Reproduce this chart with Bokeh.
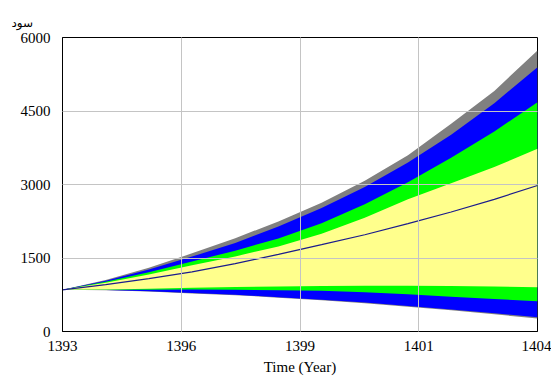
from bokeh.plotting import figure
from bokeh.models import Range1d, FixedTicker
from bokeh.embed import file_html
from bokeh.resources import INLINE

# ---- data ----
years = [1393, 1394, 1395, 1396, 1397, 1398, 1399, 1400, 1401, 1402, 1403, 1404]

gray_hi   = [850, 1050, 1300, 1595, 1905, 2246, 2628, 3075, 3598, 4240, 4910, 5735]
blue_hi   = [850, 1038, 1267, 1529, 1807, 2143, 2520, 2949, 3450, 4016, 4659, 5395]
green_hi  = [850, 1014, 1209, 1430, 1649, 1900, 2210, 2595, 3047, 3545, 4083, 4680]
yellow_hi = [850, 995, 1164, 1351, 1532, 1737, 1995, 2320, 2698, 3023, 3356, 3729]
base_run  = [850, 958, 1080, 1218, 1385, 1575, 1773, 1975, 2200, 2438, 2697, 2980]
yellow_lo = [850, 855, 870, 895, 910, 920, 930, 935, 935, 930, 920, 905]
green_lo  = [850, 850, 850, 855, 850, 840, 830, 800, 760, 710, 665, 618]
blue_lo   = [850, 845, 820, 785, 750, 700, 650, 590, 520, 450, 370, 290]
gray_lo   = [850, 842, 815, 778, 742, 690, 638, 576, 505, 432, 350, 265]

x_ticks = [1393, 1395.75, 1398.5, 1401.25, 1404]
x_tick_labels = ["1393", "1396", "1399", "1401", "1404"]
y_ticks = [0, 1500, 3000, 4500, 6000]
y_tick_labels = ["0", "1500", "3000", "4500", "6000"]

y_title = "سود"
x_title = "Time (Year)"

SERIF = "Liberation Serif"

p = figure(width=551, height=380,
           x_range=Range1d(1393, 1404), y_range=Range1d(0, 6000),
           output_backend="svg", toolbar_location=None,
           min_border_left=62, min_border_right=14,
           min_border_top=37, min_border_bottom=49,
           title=y_title)

p.background_fill_color = "white"
p.border_fill_color = "white"
p.outline_line_color = "black"
p.outline_line_width = 1

p.title.align = "left"
p.title.offset = -51
p.title.standoff = 15
p.title.text_font = "DejaVu Sans"
p.title.text_font_size = "12px"
p.title.text_font_style = "normal"
p.title.text_color = "black"

# bands
p.varea(x=years, y1=gray_lo, y2=gray_hi, fill_color="#808080")
p.varea(x=years, y1=blue_lo, y2=blue_hi, fill_color="#0000ff")
p.varea(x=years, y1=green_lo, y2=green_hi, fill_color="#00ff00")
p.varea(x=years, y1=yellow_lo, y2=yellow_hi, fill_color="#ffff8c")
p.line(x=years, y=base_run, line_color="#1c1c8c", line_width=1.2)

# axes
p.xaxis.ticker = FixedTicker(ticks=x_ticks)
p.xaxis.major_label_overrides = {t: l for t, l in zip(x_ticks, x_tick_labels)}
p.yaxis.ticker = FixedTicker(ticks=y_ticks)
p.yaxis.major_label_overrides = {t: l for t, l in zip(y_ticks, y_tick_labels)}

for ax in (p.xaxis, p.yaxis):
    ax.axis_line_color = "black"
    ax.major_tick_line_color = None
    ax.minor_tick_line_color = None
    ax.major_tick_out = 0
    ax.major_tick_in = 0
    ax.major_label_text_font = SERIF
    ax.major_label_text_font_size = "15px"
    ax.major_label_text_color = "black"
p.xaxis.major_label_standoff = 9
p.yaxis.major_label_standoff = 12

p.xaxis.axis_label = x_title
p.xaxis.axis_label_standoff = 5
p.xaxis.axis_label_text_font = SERIF
p.xaxis.axis_label_text_font_size = "15px"
p.xaxis.axis_label_text_font_style = "normal"
p.xaxis.axis_label_text_color = "black"

p.grid.grid_line_color = "#c4c4c4"
p.grid.grid_line_width = 1
p.grid.level = "guide"
p.xgrid.ticker = FixedTicker(ticks=x_ticks)
p.ygrid.ticker = FixedTicker(ticks=y_ticks)

open("out.html", "w").write(file_html(p, INLINE))
